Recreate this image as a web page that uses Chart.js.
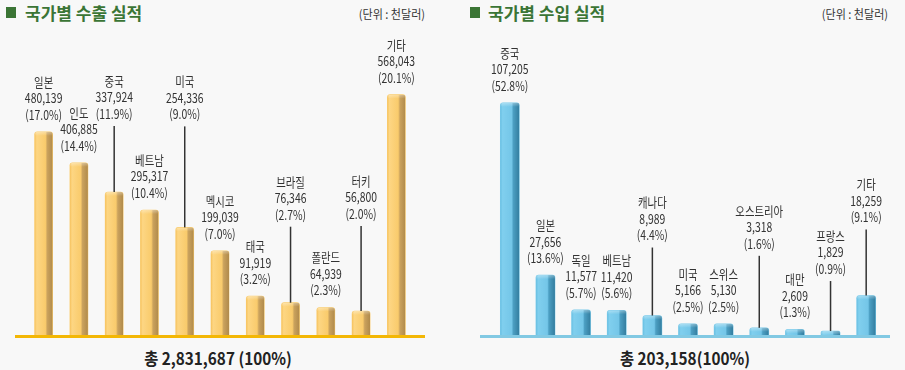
<!DOCTYPE html>
<html><head><meta charset="utf-8">
<script src="https://cdn.jsdelivr.net/npm/chart.js@4.4.0/dist/chart.umd.min.js"></script>
<style>
html,body{margin:0;padding:0;background:#f8f8f8;width:905px;height:370px;overflow:hidden;font-family:"Noto Sans CJK KR","Noto Sans",sans-serif;}
.c{position:absolute;top:0;width:452px;height:370px;}
.title{position:absolute;top:0px;font-weight:bold;font-size:17px;color:#3b7535;white-space:nowrap;line-height:26px;}
.sq{position:absolute;top:7px;width:10px;height:11px;background:#3b7535;}
.unit{position:absolute;top:4px;font-size:12px;color:#333;white-space:nowrap;line-height:20px;transform-origin:right center;transform:scaleX(0.92);}
.total{position:absolute;top:346px;font-weight:bold;font-size:17px;color:#222;white-space:nowrap;line-height:24px;transform:translateX(-50%) scaleX(0.9);}
</style>
</head><body>
<div class="sq" style="left:6px"></div>
<div class="title" style="left:25px">국가별 수출 실적</div>
<div class="unit" style="right:480px">(단위 : 천달러)</div>
<div class="sq" style="left:470px"></div>
<div class="title" style="left:488px">국가별 수입 실적</div>
<div class="unit" style="right:17px">(단위 : 천달러)</div>
<div class="total" style="left:218px">총 2,831,687 (100%)</div>
<div class="total" style="left:685px">총 203,158(100%)</div>
<div class="c" style="left:0"><canvas id="exp" width="452" height="370"></canvas></div>
<div class="c" style="left:453px"><canvas id="imp" width="452" height="370"></canvas></div>
<script>
// ---- data ----
const exportCountries = ['일본','인도','중국','베트남','미국','멕시코','태국','브라질','폴란드','터키','기타'];
const exportValues = [480139, 406885, 337924, 295317, 254336, 199039, 91919, 76346, 64939, 56800, 568043];
const exportShares = ['17.0%','14.4%','11.9%','10.4%','9.0%','7.0%','3.2%','2.7%','2.3%','2.0%','20.1%'];

const importCountries = ['중국','일본','독일','베트남','캐나다','미국','스위스','오스트리아','대만','프랑스','기타'];
const importValues = [107205, 27656, 11577, 11420, 8989, 5166, 5130, 3318, 2609, 1829, 18259];
const importShares = ['52.8%','13.6%','5.7%','5.6%','4.4%','2.5%','2.5%','1.6%','1.3%','0.9%','9.1%'];

// label lift (px) for labels raised with a leader line
const exportLabelLift = [0,0,61,0,96,0,0,71,0,80,0];
const importLabelLift = [0,0,0,0,63,0,0,67,0,45,61];

const barDeco = {
  id: 'barDeco',
  afterDatasetsDraw(chart, args, o) {
    const ctx = chart.ctx, ca = chart.chartArea;
    const meta = chart.getDatasetMeta(0);
    ctx.save();
    // shading of bars
    meta.data.forEach((bar) => {
      const p = bar.getProps(['x','y','base','width'], true);
      const l = p.x - p.width/2, w = p.width;
      ctx.save();
      ctx.beginPath();
      ctx.roundRect(l, p.y, w, p.base - p.y, [3,3,0,0]);
      ctx.clip();
      const g = ctx.createLinearGradient(l, 0, l + w, 0);
      o.stops.forEach(s => g.addColorStop(s[0], s[1]));
      ctx.fillStyle = g;
      ctx.fillRect(l, p.y, w, p.base - p.y);
      // top highlight
      const gt = ctx.createLinearGradient(0, p.y, 0, p.y + 4);
      gt.addColorStop(0, 'rgba(255,255,255,0.35)');
      gt.addColorStop(1, 'rgba(255,255,255,0)');
      ctx.fillStyle = gt;
      ctx.fillRect(l, p.y, w, 4);
      ctx.restore();
    });
    // baseline
    ctx.fillStyle = o.baseColor;
    ctx.fillRect(ca.left - o.extL, ca.bottom, ca.right - ca.left + o.extL + o.extR, 3);
    // labels
    ctx.fillStyle = '#333';
    ctx.font = '13px "Noto Sans CJK KR", "Noto Sans", sans-serif';
    ctx.textAlign = 'center';
    ctx.textBaseline = 'middle';
    const vals = chart.data.datasets[0].data;
    meta.data.forEach((bar, i) => {
      const p = bar.getProps(['x','y'], true);
      const lift = o.lifts[i] || 0;
      const yPct = p.y - 17 - lift;
      const lines = [chart.data.labels[i], vals[i].toLocaleString('en-US'), '(' + o.shares[i] + ')'];
      lines.forEach((t, k) => {
        const yy = yPct - (2 - k) * 16.5;
        ctx.save();
        ctx.translate(p.x, yy);
        ctx.scale(0.8, 1);
        ctx.fillText(t, 0, 0);
        ctx.restore();
      });
      if (lift > 0) {
        ctx.strokeStyle = '#333';
        ctx.lineWidth = 1.5;
        ctx.beginPath();
        ctx.moveTo(p.x, yPct + 12);
        ctx.lineTo(p.x, p.y);
        ctx.stroke();
      }
    });
    ctx.restore();
  }
};

function makeChart(id, labels, values, shares, lifts, cfg) {
  return new Chart(document.getElementById(id), {
    type: 'bar',
    data: { labels: labels, datasets: [{ data: values, backgroundColor: cfg.main, borderWidth: 0,
      borderRadius: {topLeft: 3, topRight: 3, bottomLeft: 0, bottomRight: 0}, borderSkipped: 'bottom',
      barThickness: cfg.thick }] },
    options: {
      responsive: false, animation: false, devicePixelRatio: 1,
      layout: { padding: { left: cfg.padL, right: cfg.padR, top: 60, bottom: 35 } },
      scales: {
        x: { display: false },
        y: { display: false, min: 0, max: cfg.max }
      },
      plugins: {
        legend: { display: false }, tooltip: { enabled: false },
        barDeco: { stops: cfg.stops, baseColor: cfg.baseColor, extL: cfg.extL, extR: cfg.extR, shares: shares, lifts: lifts }
      }
    },
    plugins: [barDeco]
  });
}

makeChart('exp', exportCountries, exportValues, exportShares, exportLabelLift, {
  main: '#f9cb6c', thick: 18, padL: 26, padR: 38, max: 650000, extL: 11, extR: 11,
  baseColor: '#f3b705',
  stops: [[0,'#f6c25e'],[0.12,'#fdd683'],[0.6,'#f9cb6c'],[0.7,'#caa25d'],[1,'#b08a4b']]
});
makeChart('imp', importCountries, importValues, importShares, importLabelLift, {
  main: '#7acaea', thick: 19, padL: 39, padR: 21, max: 127000, extL: 12, extR: 6,
  baseColor: '#82c9e3',
  stops: [[0,'#68bfe2'],[0.12,'#80cfee'],[0.6,'#74c6e8'],[0.68,'#4c9fc3'],[1,'#337d9f']]
});
</script>
</body></html>
